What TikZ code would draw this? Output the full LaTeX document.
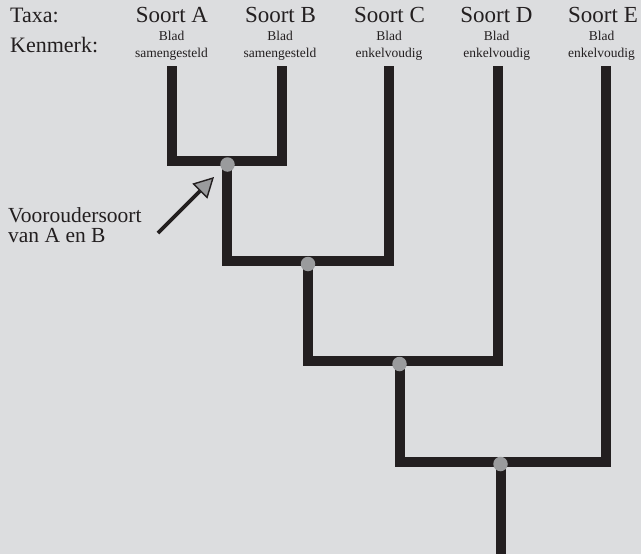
\documentclass[tikz,border=0pt]{standalone}
\usepackage{fontspec}
\setmainfont{Liberation Serif}
\usetikzlibrary{arrows.meta}
\definecolor{bg}{HTML}{DCDDDF}
\definecolor{ink}{HTML}{231F20}
\definecolor{dotc}{HTML}{9A9B9D}
\begin{document}
\begin{tikzpicture}[x=1pt,y=-1pt,
  branch/.style={draw=ink,line width=10pt,line join=miter,line cap=butt},
  jdot/.style={circle,fill=dotc,inner sep=0pt,minimum size=14.5pt},
  big/.style={inner sep=0pt,text=ink,font=\fontsize{22}{24}\selectfont},
  taxon/.style={inner sep=0pt,text=ink,font=\fontsize{23}{25}\selectfont},
  small/.style={inner sep=0pt,text=ink,font=\fontsize{13.5}{15}\selectfont},
  pointer/.style={draw=ink,line width=3.8pt,-{Triangle[length=20pt,width=21pt,fill=dotc,line width=1.4pt]}}]
\useasboundingbox (0,0) rectangle (641,554);
\fill[bg] (0,0) rectangle (641,554);
% headers
\node[big,anchor=base west] (taxa) at (10,23) {Taxa:};
\node[big,anchor=base west] (kenmerk) at (10,52.5) {Kenmerk:};
\node[taxon,anchor=base] (sA) at (172,23) {Soort A};
\node[taxon,anchor=base] (sB) at (280.5,23) {Soort B};
\node[taxon,anchor=base] (sC) at (389.5,23) {Soort C};
\node[taxon,anchor=base] (sD) at (496.5,23) {Soort D};
\node[taxon,anchor=base] (sE) at (603,23) {Soort E};
\node[small,anchor=base] (bA) at (171.5,40) {Blad};
\node[small,anchor=base] (bB) at (280,40) {Blad};
\node[small,anchor=base] (bC) at (389,40) {Blad};
\node[small,anchor=base] (bD) at (496.7,40) {Blad};
\node[small,anchor=base] (bE) at (601.5,40) {Blad};
\node[small,anchor=base] (kA) at (171.5,57.5) {samengesteld};
\node[small,anchor=base] (kB) at (280,57.5) {samengesteld};
\node[small,anchor=base] (kC) at (389,57.5) {enkelvoudig};
\node[small,anchor=base] (kD) at (496.7,57.5) {enkelvoudig};
\node[small,anchor=base] (kE) at (601.5,57.5) {enkelvoudig};
% tips
\coordinate (tA) at (172,66);
\coordinate (tB) at (282,66);
\coordinate (tC) at (389,66);
\coordinate (tD) at (498,66);
\coordinate (tE) at (605.5,66);
% junctions
\coordinate (jAB) at (227,161);
\coordinate (jABC) at (308,261);
\coordinate (jABCD) at (400,361);
\coordinate (jABCDE) at (501,462);
\coordinate (root) at (501,556);
% branches
\draw[branch] (tA) |- (jAB) -| (tB);
\draw[branch] (jAB) |- (jABC) -| (tC);
\draw[branch] (jABC) |- (jABCD) -| (tD);
\draw[branch] (jABCD) |- (jABCDE) -| (tE);
\draw[branch] (jABCDE) -- (root);
% dots
\node[jdot] (dAB) at (227.5,164.5) {};
\node[jdot] (dABC) at (308,264) {};
\node[jdot] (dABCD) at (399.5,364) {};
\node[jdot] (dABCDE) at (500.5,464) {};
% annotation
\node[big,anchor=base west,align=left,font=\fontsize{21.5}{19.5}\selectfont] (anc) at (8,242) {Vooroudersoort\\van A en B};
\coordinate (arrTail) at (158,233);
\coordinate (arrHead) at (214,177);
\draw[pointer] (arrTail) -- (arrHead);
\end{tikzpicture}
\end{document}
